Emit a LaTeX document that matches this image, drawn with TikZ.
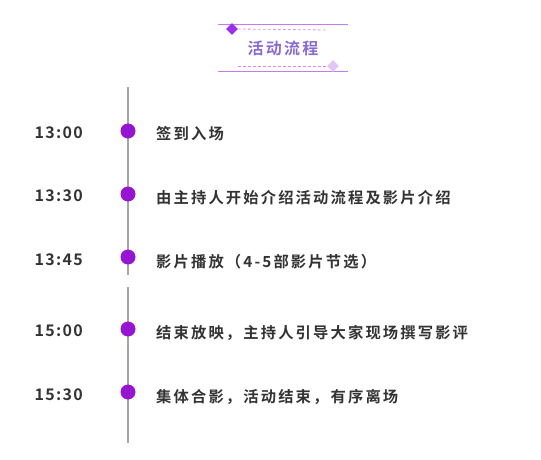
\documentclass[tikz,border=0pt]{standalone}
\usepackage{fontspec}
\setmainfont{Noto Sans CJK SC}
\newfontfamily\cjkb[LetterSpace=14]{Noto Sans CJK SC Bold}
\newfontfamily\cjkt[LetterSpace=8]{Noto Sans CJK SC Bold}
\usetikzlibrary{shapes.geometric}
\definecolor{dotc}{HTML}{9515D2}
\definecolor{linec}{HTML}{A6A6A6}
\definecolor{txt}{HTML}{333333}
\definecolor{hline}{HTML}{C57BEA}
\definecolor{dashc}{HTML}{D48CF0}
\definecolor{dia1}{HTML}{9B2FEA}
\definecolor{dia2}{HTML}{E3C6F8}
\definecolor{titlec}{HTML}{8A6BD0}
\begin{document}
\begin{tikzpicture}[x=1pt,y=-1pt,
  tl/.style={line width=2pt,draw=linec},
  dotn/.style={circle,fill=dotc,minimum size=15pt,inner sep=0pt},
  timen/.style={anchor=east,text=txt,font=\cjkt\fontsize{16}{16}\selectfont,inner sep=0pt},
  itemn/.style={anchor=west,text=txt,font=\cjkb\fontsize{15.3}{15.3}\selectfont,inner sep=0pt},
  hl/.style={draw=hline,line width=0.8pt},
  dl/.style={draw=dashc,line width=0.8pt,dash pattern=on 2.5pt off 2.5pt},
  dia/.style={diamond,inner sep=0pt,minimum size=12pt}]
\useasboundingbox (0,0) rectangle (541,460);
% header
\coordinate (h1a) at (218,24); \coordinate (h1b) at (348,24);
\coordinate (h2a) at (218,71); \coordinate (h2b) at (348,71);
\draw[hl] (h1a) -- (h1b);
\draw[hl] (h2a) -- (h2b);
\node[dia,fill=dia1] (d1) at (232,29) {};
\node[dia,fill=dia2] (d2) at (333,66) {};
\coordinate (dl1) at (328,30);
\coordinate (dl2) at (238,66);
\draw[dl] (d1.east) -- (dl1);
\draw[dl] (dl2) -- (d2.west);
\node[text=titlec,font=\cjkb\fontsize{16}{16}\selectfont,inner sep=0pt] (title) at (283,48) {活动流程};
% timeline
\coordinate (t1) at (128,87); \coordinate (t2) at (128,275);
\coordinate (t3) at (128,287); \coordinate (t4) at (128,443);
\draw[tl] (t1) -- (t2);
\draw[tl] (t3) -- (t4);
\node[dotn] (p1) at (128,131) {};
\node[dotn] (p2) at (128,194) {};
\node[dotn] (p3) at (128,257) {};
\node[dotn] (p4) at (128,329) {};
\node[dotn] (p5) at (128,392) {};
\node[timen] (s1) at (83,133) {13:00};
\node[timen] (s2) at (83,196) {13:30};
\node[timen] (s3) at (83,260) {13:45};
\node[timen] (s4) at (83,331) {15:00};
\node[timen] (s5) at (83,395) {15:30};
\node[itemn] (i1) at (156,134) {签到入场};
\node[itemn] (i2) at (156,198) {由主持人开始介绍活动流程及影片介绍};
\node[itemn] (i3) at (156,262) {影片播放（4-5部影片节选）};
\node[itemn] (i4) at (156,333) {结束放映，主持人引导大家现场撰写影评};
\node[itemn] (i5) at (156,397) {集体合影，活动结束，有序离场};
\end{tikzpicture}
\end{document}
